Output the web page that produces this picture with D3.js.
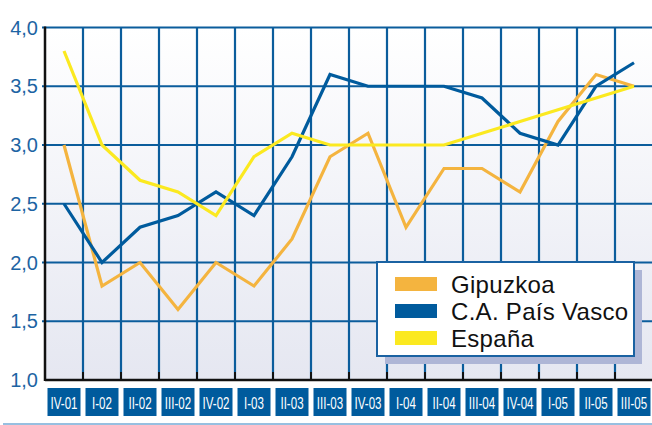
<!DOCTYPE html>
<html>
<head>
<meta charset="utf-8">
<script src="https://cdn.jsdelivr.net/npm/d3@7"></script>
<style>
  html, body { margin: 0; padding: 0; background: #fff; }
  svg { display: block; }
</style>
</head>
<body>
<div id="chart"></div>
<script>
  "use strict";
  var periods = ["IV-01", "I-02", "II-02", "III-02", "IV-02", "I-03", "II-03", "III-03",
                 "IV-03", "I-04", "II-04", "III-04", "IV-04", "I-05", "II-05", "III-05"];
  var gipuzkoa = [3.0, 1.8, 2.0, 1.6, 2.0, 1.8, 2.2, 2.9, 3.1, 2.3, 2.8, 2.8, 2.6, 3.2, 3.6, 3.5];
  var paisVasco = [2.5, 2.0, 2.3, 2.4, 2.6, 2.4, 2.9, 3.6, 3.5, 3.5, 3.5, 3.4, 3.1, 3.0, 3.5, 3.7];
  var espana = [3.8, 3.0, 2.7, 2.6, 2.4, 2.9, 3.1, 3.0, 3.0, 3.0, 3.0, 3.1, 3.2, 3.3, 3.4, 3.5];
  var yTicks = [1.0, 1.5, 2.0, 2.5, 3.0, 3.5, 4.0];
  var seriesNames = ["Gipuzkoa", "C.A. País Vasco", "España"];

  (function() {
  var width = 652, height = 425;
  var plotLeft = 45, plotTop = 27.5, plotBottom = 380;
  var band = 38;

  var x = d3.scaleBand().domain(periods).range([plotLeft, plotLeft + band * periods.length]).padding(0);
  var y = d3.scaleLinear().domain([1, 4]).range([plotBottom, plotTop]);
  var colors = d3.scaleOrdinal().domain(seriesNames).range(["#f4b43f", "#005b9d", "#fbe920"]);

  var svg = d3.select("#chart").append("svg")
              .attr("width", width)
              .attr("height", height);

  // background fade
  var grad = svg.append("defs").append("linearGradient")
                .attr("id", "bg").attr("x1", 0).attr("y1", 0).attr("x2", 0).attr("y2", 1);
  grad.append("stop").attr("offset", "0%").attr("stop-color", "#ffffff");
  grad.append("stop").attr("offset", "100%").attr("stop-color", "#e5e7f1");

  svg.append("rect")
     .attr("x", plotLeft).attr("y", plotTop)
     .attr("width", width - plotLeft).attr("height", plotBottom - plotTop)
     .attr("fill", "url(#bg)");

  // grid
  var grid = svg.append("g").attr("stroke", "#0b5d9c").attr("stroke-width", 2.2);
  grid.selectAll("line.h").data(yTicks.slice(1)).enter().append("line")
      .attr("x1", plotLeft - 3).attr("x2", width)
      .attr("y1", function(d) { return y(d); })
      .attr("y2", function(d) { return y(d); });
  grid.selectAll("line.v").data(periods.slice(1)).enter().append("line")
      .attr("x1", function(d) { return x(d); })
      .attr("x2", function(d) { return x(d); })
      .attr("y1", plotTop).attr("y2", plotBottom);

  // small black ticks at the foot of the grid
  svg.append("g").selectAll("line").data(periods.slice(1)).enter().append("line")
     .attr("x1", function(d) { return x(d); })
     .attr("x2", function(d) { return x(d); })
     .attr("y1", plotBottom - 8).attr("y2", plotBottom)
     .attr("stroke", "#111").attr("stroke-width", 2);

  // axes lines
  svg.append("line").attr("x1", plotLeft).attr("x2", plotLeft).attr("y1", plotTop - 1).attr("y2", plotBottom + 1)
     .attr("stroke", "#111").attr("stroke-width", 2.5);
  svg.append("line").attr("x1", plotLeft).attr("x2", width).attr("y1", plotBottom).attr("y2", plotBottom)
     .attr("stroke", "#111").attr("stroke-width", 2.5);

  // y labels
  var fmt = function(d) { return d3.format(".1f")(d).replace(".", ","); };
  svg.append("g").selectAll("text").data(yTicks).enter().append("text")
     .attr("x", 38)
     .attr("y", function(d) { return y(d) + 7; })
     .attr("text-anchor", "end")
     .attr("font-family", "'Liberation Sans Narrow', 'Liberation Sans', Arial, sans-serif")
     .attr("font-size", 20)
     .attr("fill", "#1d64a3")
     .text(fmt);

  // x labels in blue boxes
  var xl = svg.append("g").selectAll("g").data(periods).enter().append("g")
              .attr("transform", function(d) { return "translate(" + (x(d) + x.bandwidth() / 2) + ",0)"; });
  xl.append("rect")
    .attr("x", -16.5).attr("y", 388)
    .attr("width", 33).attr("height", 28)
    .attr("fill", "#005b9d");
  xl.append("text")
    .attr("transform", "translate(0,408.5) scale(0.68,1)")
    .attr("text-anchor", "middle")
    .attr("font-family", "'Liberation Sans Narrow', 'Liberation Sans', Arial, sans-serif")
    .attr("font-size", 17)
    .attr("fill", "#fff")
    .text(function(d) { return d; });

  // bottom rule
  svg.append("line").attr("x1", 3).attr("x2", width).attr("y1", 424).attr("y2", 424)
     .attr("stroke", "#74aad6").attr("stroke-width", 1.5);

  // lines
  var line = d3.line()
               .x(function(d, i) { return x(periods[i]) + x.bandwidth() / 2; })
               .y(function(d) { return y(d); });
  var data = [gipuzkoa, paisVasco, espana];
  svg.append("g").selectAll("path").data(data).enter().append("path")
     .attr("d", line)
     .attr("fill", "none")
     .attr("stroke", function(d, i) { return colors(seriesNames[i]); })
     .attr("stroke-width", 3.2)
     .attr("stroke-linejoin", "miter");

  // legend
  var lg = svg.append("g").attr("transform", "translate(377,262)");
  lg.append("rect").attr("x", 8).attr("y", 8).attr("width", 257).attr("height", 94).attr("fill", "#aeb6d6");
  lg.append("rect").attr("x", 0).attr("y", 0).attr("width", 257).attr("height", 94)
    .attr("fill", "#fff").attr("stroke", "#1a62a2").attr("stroke-width", 2);
  var items = lg.selectAll("g.item").data(seriesNames).enter().append("g")
                .attr("transform", function(d, i) { return "translate(0," + (22 + i * 27) + ")"; });
  items.append("rect").attr("x", 18).attr("y", -7).attr("width", 42).attr("height", 14)
       .attr("fill", function(d) { return colors(d); });
  items.append("text").attr("x", 74).attr("y", 8.5)
       .attr("font-family", "'Liberation Sans', Arial, sans-serif")
       .attr("font-size", 24)
       .attr("letter-spacing", 0.3)
       .attr("fill", "#111")
       .text(function(d) { return d; });
  })();
</script>
</body>
</html>
